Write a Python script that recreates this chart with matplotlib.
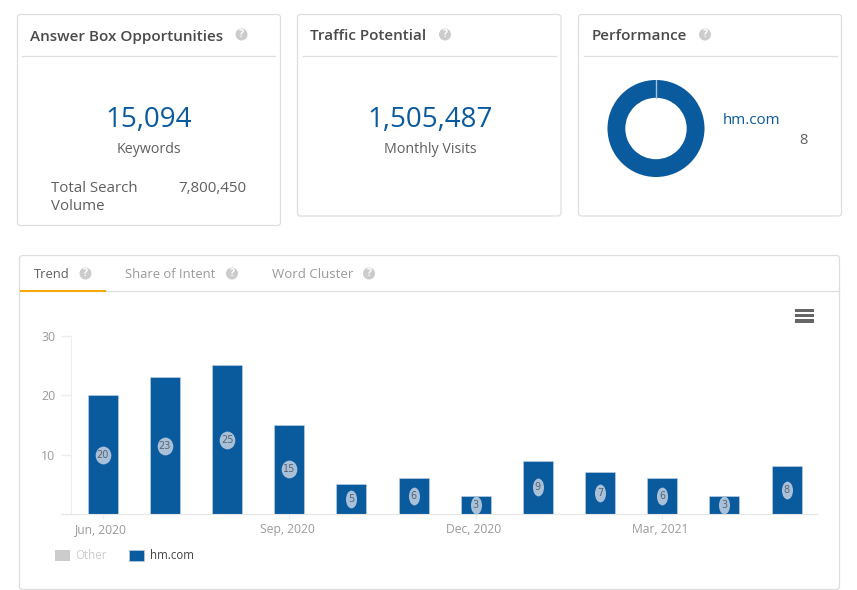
#!/usr/bin/env python
import matplotlib
matplotlib.use('Agg')
import numpy as np
import matplotlib.pyplot as plt
from matplotlib.patches import FancyBboxPatch, Circle, Rectangle
from matplotlib.path import Path
from matplotlib.transforms import Affine2D, ScaledTranslation

plt.rcParams['font.family'] = ['Open Sans', 'DejaVu Sans']

months = ['Jun, 2020', 'Jul, 2020', 'Aug, 2020', 'Sep, 2020', 'Oct, 2020', 'Nov, 2020',
          'Dec, 2020', 'Jan, 2021', 'Feb, 2021', 'Mar, 2021', 'Apr, 2021', 'May, 2021']
hm_values = [20, 23, 25, 15, 5, 6, 3, 9, 7, 6, 3, 8]
other_values = [0, 0, 0, 0, 0, 0, 0, 0, 0, 0, 0, 0]
y_ticks = [10, 20, 30]
performance_values = [8]
tabs = ['Trend', 'Share of Intent', 'Word Cluster']

W, H = 857, 590
BLUE = '#0a5a9e'
BORDER = '#dedede'
DARK = '#4a4a4a'
TEXT = '#5f5f5f'
ICON = '#cccccc'

fig = plt.figure(figsize=(W / 100, H / 100), dpi=100)
fig.patch.set_facecolor('white')

# page furniture, drawn in pixel coordinates
bg = fig.add_axes([0, 0, 1, 1], zorder=0)
bg.set_xlim(0, W)
bg.set_ylim(H, 0)
bg.axis('off')


def card(x0, y0, x1, y1):
    bg.add_patch(FancyBboxPatch((x0, y0), x1 - x0, y1 - y0, boxstyle='round,pad=0,rounding_size=3',
                                fc='white', ec=BORDER, lw=0.9))


def help_icon(x, y):
    bg.add_patch(Circle((x, y), 6, fc=ICON, ec='none'))
    bg.text(x, y + 0.2, '?', color='white', fontsize=7.5, fontweight='bold', ha='center', va='center')


card(17.5, 14.5, 280.5, 225.5)
card(297.5, 14.5, 561, 216)
card(578.5, 14.5, 841.5, 216)
card(19.5, 255.5, 839.5, 589.5)

for x0, x1 in [(22, 275), (303, 556), (584, 837)]:
    bg.plot([x0, x1], [56, 56], color=BORDER, lw=0.9)

bg.text(30, 36.5, 'Answer Box Opportunities', color=DARK, fontsize=11, fontweight='semibold', va='center')
bg.text(310.5, 36.5, 'Traffic Potential', color=DARK, fontsize=11, fontweight='semibold', va='center')
bg.text(591.5, 36.5, 'Performance', color=DARK, fontsize=11, fontweight='semibold', va='center')
help_icon(241.5, 34.5)
help_icon(445, 34.5)
help_icon(705, 34.5)

bg.text(149, 120, '15,094', color=BLUE, fontsize=20, fontweight='medium', ha='center', va='center')
bg.text(149, 149.5, 'Keywords', color=TEXT, fontsize=10.3, ha='center', va='center')
bg.text(51, 188, 'Total Search', color=TEXT, fontsize=10.8, va='center')
bg.text(51, 206.5, 'Volume', color=TEXT, fontsize=10.8, va='center')
bg.text(246.5, 188, '7,800,450', color=TEXT, fontsize=10.9, ha='right', va='center')

bg.text(430, 120, '1,505,487', color=BLUE, fontsize=20, fontweight='medium', ha='center', va='center')
bg.text(430, 149.5, 'Monthly Visits', color=TEXT, fontsize=10.3, ha='center', va='center')

bg.text(722.5, 120.5, 'hm.com', color=BLUE, fontsize=10.9, va='center')
bg.text(803, 141, str(performance_values[0]), color=TEXT, fontsize=10.5, ha='center', va='center')

# tabs
bg.plot([20, 839], [291, 291], color=BORDER, lw=0.9)
bg.add_patch(Rectangle((20, 290), 86, 2, fc='#f5a800', ec='none', zorder=3))
bg.text(33.5, 274.5, tabs[0], color=TEXT, fontsize=9.4, va='center')
bg.text(125, 274.5, tabs[1], color='#9a9a9a', fontsize=9.4, va='center')
bg.text(272, 274.5, tabs[2], color='#9a9a9a', fontsize=9.5, va='center')
help_icon(85.5, 273.5)
help_icon(232, 273.5)
help_icon(369, 273.5)

# menu icon
for y in [310.3, 315.5, 321]:
    bg.add_patch(Rectangle((795.5, y - 1.6), 18.5, 3.2, fc='#666666', ec='none'))

# donut
pie_ax = fig.add_axes([607 / W, 1 - 177.5 / H, 98 / W, 98 / H], zorder=1)
pie_ax.pie(performance_values, colors=[BLUE], startangle=90, radius=1,
           wedgeprops=dict(width=18 / 49, linewidth=0))
pie_ax.plot([0, 0], [1 - 18 / 49, 1], color='#a9c0d9', lw=1)
pie_ax.set_xlim(-1.01, 1.01)
pie_ax.set_ylim(-1.01, 1.01)

# trend chart
ax = fig.add_axes([71 / W, 1 - 514 / H, (817 - 71) / W, (514 - 335.7) / H], zorder=1)
ax.patch.set_alpha(0)
x = np.arange(len(months))
bar_w = 30 / 62.15
ax.bar(x, other_values, width=bar_w, color='#cccccc', label='Other')
ax.bar(x, hm_values, width=bar_w, color=BLUE, edgecolor='#c5d5e6', linewidth=0.4, label='hm.com')

ax.set_xlim(-0.51, 11.49)
ax.set_ylim(0, 30)
ax.set_xticks(x[::3])
ax.set_xticklabels(months[::3], color='#9a9a9a', fontsize=8.7)
ax.set_yticks(y_ticks)
ax.set_yticklabels([str(v) for v in y_ticks], color='#9a9a9a', fontsize=8.9)
ax.tick_params(axis='x', length=3.6, width=1, color='#eeeeee', pad=3)
ax.tick_params(axis='y', length=7.2, width=1, color='#eeeeee', pad=4)
for label in ax.get_xticklabels():
    label.set_transform(label.get_transform() + ScaledTranslation(-1.3 / 72, 0, fig.dpi_scale_trans))
for side in ['top', 'right']:
    ax.spines[side].set_visible(False)
ax.spines['left'].set_color('#eeeeee')
ax.spines['bottom'].set_color('#e6e6e6')
# baseline runs a little past the y axis
ax.plot([-0.67, -0.51], [0, 0], color='#e6e6e6', lw=1, clip_on=False)

# value bubbles: narrow ellipse for one digit, wider for two
for i, v in enumerate(hm_values):
    ratio = 0.62 if v < 10 else 0.88
    bubble = Path.unit_circle().transformed(Affine2D().scale(ratio, 1))
    ax.plot(i, v / 2, marker=bubble, ms=12.8, mfc='#a9c0d9', mec='none', zorder=4, clip_on=False)
    ax.text(i, v / 2, str(v), color='#5a6570', fontsize=7, family='DejaVu Sans',
            ha='center', va='center', zorder=5)

leg = ax.legend(loc='lower left', bbox_to_anchor=(50 / W, 1 - 567 / H), bbox_transform=fig.transFigure,
                ncol=2, frameon=False, fontsize=8.3, handlelength=1.3, handleheight=1.0,
                handletextpad=0.5, columnspacing=1.95, borderpad=0.4, borderaxespad=0)
leg.get_texts()[0].set_color('#cccccc')
leg.get_texts()[1].set_color('#444444')

plt.savefig('out.png', dpi=100)
